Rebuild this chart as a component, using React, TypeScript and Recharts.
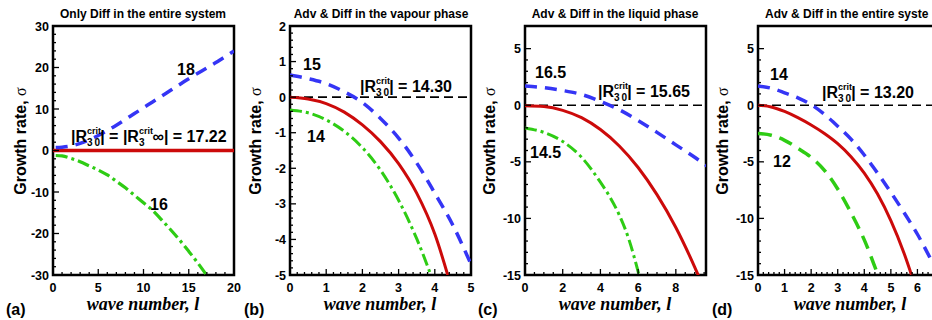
import { LineChart, Line, XAxis, YAxis, ReferenceLine, ReferenceArea } from "recharts";

// (a) only diffusion in the entire system
const aBlueL = [0.3, 1, 2, 3, 4, 5, 6, 7, 8, 9, 10, 11, 12, 13, 14, 15, 16, 17, 18, 19, 20];
const aBlue = [0.7, 0.8, 1.1, 1.7, 2.6, 3.6, 4.8, 6.1, 7.5, 8.9, 10.3, 11.7, 13.1, 14.5, 15.9, 17.3, 18.6, 19.9, 21.2, 22.6, 24.0];
const aRedL = [0, 20];
const aRed = [0, 0];
const aGreenL = [0.3, 1, 2, 3, 4, 5, 6, 7, 8, 9, 10, 11, 12, 13, 14, 15, 16, 17];
const aGreen = [-1.2, -1.3, -1.9, -2.7, -3.7, -4.7, -5.9, -7.4, -9.0, -10.8, -12.6, -14.4, -16.7, -19.1, -21.6, -24.3, -27.1, -30.1];

// (b) vapour phase
const bBlueL = [0, 0.5, 1, 1.5, 2, 2.5, 3, 3.5, 4, 4.5, 5];
const bBlue = [0.62, 0.52, 0.38, 0.15, -0.15, -0.6, -1.15, -1.85, -2.7, -3.6, -4.7];
const bRedL = [0, 0.5, 1, 1.5, 2, 2.5, 3, 3.5, 4, 4.5];
const bRed = [0, -0.05, -0.18, -0.42, -0.78, -1.25, -1.87, -2.7, -3.85, -5.5];
const bGreenL = [0, 0.5, 1, 1.5, 2, 2.5, 3, 3.5, 4];
const bGreen = [-0.36, -0.44, -0.64, -0.96, -1.42, -2.05, -2.9, -3.98, -5.3];

// (c) liquid phase
const cBlueL = [0, 1, 2, 3, 4, 5, 6, 7, 8, 9, 10];
const cBlue = [1.7, 1.55, 1.3, 0.95, 0.35, -0.4, -1.35, -2.4, -3.5, -4.6, -5.8];
const cRedL = [0, 1, 2, 3, 4, 5, 6, 7, 8, 9, 10];
const cRed = [-0.05, -0.12, -0.45, -1.1, -2.15, -3.6, -5.5, -7.9, -10.8, -14.3, -18.3];
const cGreenL = [0, 1, 2, 3, 4, 4.5, 5, 5.5, 6, 6.5];
const cGreen = [-2.0, -2.4, -3.2, -4.6, -6.8, -8.1, -9.7, -11.8, -14.7, -18.0];

// (d) entire system
const dBlueL = [0, 0.5, 1, 1.5, 2, 2.5, 3, 3.5, 4, 4.5, 5, 5.5, 6, 6.5, 7];
const dBlue = [1.7, 1.5, 1.1, 0.65, 0.05, -0.8, -1.85, -3.0, -4.4, -6.0, -7.7, -9.5, -11.4, -13.6, -16.0];
const dRedL = [0, 0.5, 1, 1.5, 2, 2.5, 3, 3.5, 4, 4.5, 5, 5.5, 6];
const dRed = [0, -0.15, -0.55, -1.1, -1.75, -2.5, -3.4, -4.55, -6.0, -7.85, -10.2, -13.1, -16.6];
const dGreenL = [0, 0.5, 1, 1.5, 2, 2.5, 3, 3.5, 4, 4.5, 5];
const dGreen = [-2.5, -2.65, -3.1, -3.8, -4.6, -5.75, -7.4, -9.5, -11.9, -14.9, -18.0];

// tick labels
const aXTicks = [0, 5, 10, 15, 20];
const aYTicks = [-30, -20, -10, 0, 10, 20, 30];
const bXTicks = [0, 1, 2, 3, 4, 5];
const bYTicks = [-5, -4, -3, -2, -1, 0, 1, 2];
const cXTicks = [0, 2, 4, 6, 8];
const cYTicks = [-15, -10, -5, 0, 5];
const dXTicks = [0, 1, 2, 3, 4, 5, 6];
const dYTicks = [-15, -10, -5, 0, 5];

const SANS = "'Liberation Sans', Arial, sans-serif";
const SERIF = "'Liberation Serif', 'Times New Roman', serif";
const BLUE = "#3535f5";
const RED = "#cc0a0a";
const GREEN = "#2ecc14";

const pts = (xs: number[], ys: number[]) => xs.map((x, i) => ({ x, y: ys[i] }));

// minor tick positions between the domain ends
const steps = (lo: number, hi: number, step: number) => {
  const out: number[] = [];
  const n = Math.floor((hi - lo) / step + 1e-6);
  for (let i = 0; i <= n; i++) out.push(+(lo + i * step).toFixed(4));
  return out;
};

const isMajor = (v: number, major: number[]) => major.some((m) => Math.abs(m - v) < 1e-6);

const yTick = (major: number[]) => (p: any) => {
  const v = p.payload.value;
  const big = isMajor(v, major);
  return (
    <g>
      <line x1={p.x} y1={p.y} x2={p.x + (big ? 6 : 3)} y2={p.y} stroke="#000" strokeWidth={1.3} />
      {big && (
        <text x={p.x - 4} y={p.y + 4.5} textAnchor="end" fontFamily={SANS} fontWeight="bold" fontSize={12.5} fill="#000">
          {v}
        </text>
      )}
    </g>
  );
};

const xTick = (major: number[]) => (p: any) => {
  const v = p.payload.value;
  const big = isMajor(v, major);
  return (
    <g>
      <line x1={p.x} y1={p.y} x2={p.x} y2={p.y - (big ? 6 : 3)} stroke="#000" strokeWidth={1.3} />
      {big && (
        <text x={p.x} y={p.y + 16.5} textAnchor="middle" fontFamily={SANS} fontWeight="bold" fontSize={12.5} fill="#000">
          {v}
        </text>
      )}
    </g>
  );
};

type Series = { xs: number[]; ys: number[]; color: string; dash?: string; width: number };

const AXW = 20;

function Panel(props: {
  left: number;
  right: number;
  width: number;
  xDomain: [number, number];
  yDomain: [number, number];
  xMajor: number[];
  xMinor: number;
  yMajor: number[];
  yMinor: number;
  series: Series[];
  zero?: boolean;
}) {
  const { left, right, width, xDomain, yDomain, xMajor, xMinor, yMajor, yMinor, series, zero } = props;
  return (
    <div style={{ position: "absolute", left: 0, top: 0 }}>
      <LineChart width={width} height={320} margin={{ top: 26, bottom: 45 - AXW, left: left - AXW, right: width - right }}>
        <XAxis
          dataKey="x"
          type="number"
          domain={xDomain}
          allowDataOverflow
          ticks={steps(xDomain[0], xDomain[1], xMinor)}
          interval={0}
          tick={xTick(xMajor)}
          tickLine={false}
          axisLine={false}
          tickSize={0}
          tickMargin={0}
          height={AXW}
        />
        <YAxis
          type="number"
          domain={yDomain}
          allowDataOverflow
          ticks={steps(yDomain[0], yMajor[yMajor.length - 1], yMinor)}
          interval={0}
          tick={yTick(yMajor)}
          tickLine={false}
          axisLine={false}
          tickSize={0}
          tickMargin={0}
          width={AXW}
        />
        {zero && <ReferenceLine y={0} stroke="#000" strokeWidth={1.6} strokeDasharray="9 5" />}
        {series.map((s, i) => (
          <Line
            key={i}
            data={pts(s.xs, s.ys)}
            dataKey="y"
            type="monotone"
            stroke={s.color}
            strokeWidth={s.width}
            strokeDasharray={s.dash}
            dot={false}
            activeDot={false}
            isAnimationActive={false}
          />
        ))}
        <ReferenceArea
          x1={xDomain[0]}
          x2={xDomain[1]}
          y1={yDomain[0]}
          y2={yDomain[1]}
          fill="none"
          stroke="#000"
          strokeWidth={2.5}
          ifOverflow="visible"
        />
      </LineChart>
    </div>
  );
}

function RCrit({ x, y, tail }: { x: number; y: number; tail: string }) {
  return (
    <text x={x} y={y} fontFamily={SANS} fontWeight="bold" fontSize={16} fill="#000">
      |R
      <tspan fontSize={9} dy={-8}>crit</tspan>
      <tspan fontSize={10} dx={-14} dy={12}>3</tspan>
      <tspan fontSize={10} dx={2}>0</tspan>
      <tspan fontSize={16} dy={-4}>{tail}</tspan>
    </text>
  );
}

function Label({ x, y, t }: { x: number; y: number; t: string }) {
  return (
    <text x={x} y={y} fontFamily={SANS} fontWeight="bold" fontSize={16} fill="#000">
      {t}
    </text>
  );
}

function Frame({ title, tx, anchor, ylx, xlx, letter, lx }: any) {
  return (
    <g>
      <text x={tx} y={18} textAnchor={anchor} fontFamily={SANS} fontWeight="bold" fontSize={12} fill="#000">
        {title}
      </text>
      <text
        x={ylx}
        y={141}
        transform={`rotate(-90 ${ylx} 141)`}
        textAnchor="middle"
        fontFamily={SANS}
        fontWeight="bold"
        fontSize={16}
        fill="#000"
      >
        Growth rate, <tspan fontFamily={SERIF} fontWeight="normal">σ</tspan>
      </text>
      <text x={xlx} y={310} textAnchor="middle" fontFamily={SERIF} fontWeight="bold" fontStyle="italic" fontSize={18} fill="#000">
        wave number, l
      </text>
      <text x={lx} y={315} fontFamily={SANS} fontWeight="bold" fontSize={16} fill="#000">
        {letter}
      </text>
    </g>
  );
}

export default function App() {
  return (
    <div style={{ position: "absolute", left: 0, top: 0, width: 932, height: 320, overflow: "hidden", background: "#fff" }}>
      <Panel
        left={53}
        right={234}
        width={932}
        xDomain={[0, 20]}
        yDomain={[-30, 30]}
        xMajor={aXTicks}
        xMinor={1}
        yMajor={aYTicks}
        yMinor={2}
        series={[
          { xs: aRedL, ys: aRed, color: RED, width: 3.3 },
          { xs: aGreenL, ys: aGreen, color: GREEN, width: 3.2, dash: "12 4 3 4" },
          { xs: aBlueL, ys: aBlue, color: BLUE, width: 3.5, dash: "12 8" },
        ]}
      />
      <Panel
        left={290}
        right={471}
        width={932}
        xDomain={[0, 5]}
        yDomain={[-5, 2]}
        xMajor={bXTicks}
        xMinor={0.2}
        yMajor={bYTicks}
        yMinor={0.2}
        zero
        series={[
          { xs: bRedL, ys: bRed, color: RED, width: 3 },
          { xs: bGreenL, ys: bGreen, color: GREEN, width: 3, dash: "12 4 3 4" },
          { xs: bBlueL, ys: bBlue, color: BLUE, width: 3.5, dash: "12 8" },
        ]}
      />
      <Panel
        left={525}
        right={706}
        width={932}
        xDomain={[0, 9.6]}
        yDomain={[-15, 7]}
        xMajor={cXTicks}
        xMinor={0.5}
        yMajor={cYTicks}
        yMinor={1}
        zero
        series={[
          { xs: cRedL, ys: cRed, color: RED, width: 3 },
          { xs: cGreenL, ys: cGreen, color: GREEN, width: 3, dash: "12 4 3 4" },
          { xs: cBlueL, ys: cBlue, color: BLUE, width: 3.5, dash: "12 8" },
        ]}
      />
      <Panel
        left={758}
        right={944}
        width={960}
        xDomain={[0, 7]}
        yDomain={[-15, 7]}
        xMajor={dXTicks}
        xMinor={0.2}
        yMajor={dYTicks}
        yMinor={1}
        zero
        series={[
          { xs: dRedL, ys: dRed, color: RED, width: 3 },
          { xs: dGreenL, ys: dGreen, color: GREEN, width: 3.5, dash: "14 8" },
          { xs: dBlueL, ys: dBlue, color: BLUE, width: 3.5, dash: "12 8" },
        ]}
      />
      <svg width={932} height={320} style={{ position: "absolute", left: 0, top: 0, pointerEvents: "none" }}>
        <Frame title="Only Diff in the entire system" tx={143} anchor="middle" ylx={26} xlx={143} letter="(a)" lx={6} />
        <Frame title="Adv & Diff in the vapour phase" tx={381} anchor="middle" ylx={261} xlx={380} letter="(b)" lx={244} />
        <Frame title="Adv & Diff in the liquid phase" tx={615} anchor="middle" ylx={495} xlx={615} letter="(c)" lx={478} />
        <Frame title="Adv & Diff in the entire syste" tx={765} anchor="start" ylx={728} xlx={850} letter="(d)" lx={712} />

        <Label x={177} y={75} t="18" />
        <Label x={150} y={210} t="16" />
        <text x={71} y={142} fontFamily={SANS} fontWeight="bold" fontSize={16} fill="#000">
          |R
          <tspan fontSize={9} dy={-8}>crit</tspan>
          <tspan fontSize={10} dx={-14} dy={12}>3</tspan>
          <tspan fontSize={10} dx={2}>0</tspan>
          <tspan fontSize={16} dy={-4}>| = |R</tspan>
          <tspan fontSize={9} dy={-8}>crit</tspan>
          <tspan fontSize={10} dx={-14} dy={12}>3</tspan>
          <tspan fontSize={16} dx={8} dy={-4}>∞| = 17.22</tspan>
        </text>

        <Label x={303} y={70} t="15" />
        <Label x={307} y={142} t="14" />
        <RCrit x={360} y={92} tail="| = 14.30" />

        <Label x={535} y={78} t="16.5" />
        <Label x={530} y={158} t="14.5" />
        <RCrit x={598} y={97} tail="| = 15.65" />

        <Label x={770} y={80} t="14" />
        <Label x={773} y={167} t="12" />
        <RCrit x={822} y={98} tail="| = 13.20" />
      </svg>
    </div>
  );
}
